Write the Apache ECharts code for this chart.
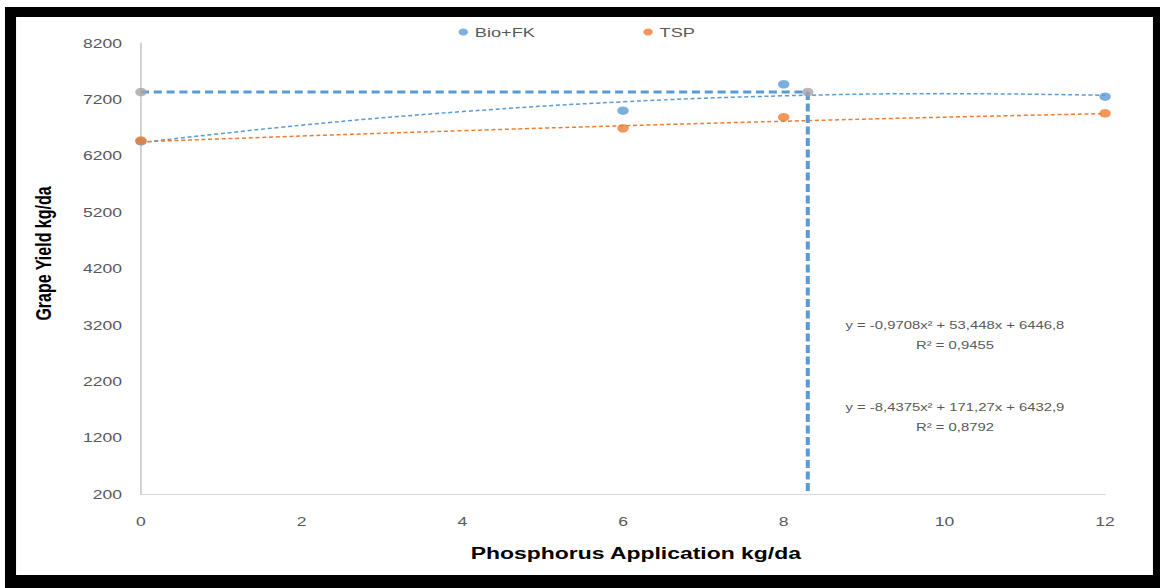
<!DOCTYPE html>
<html>
<head>
<meta charset="utf-8">
<style>
  html, body { margin: 0; padding: 0; background: #ffffff; overflow: hidden; }
  /* the chart is laid out narrow and widened horizontally */
  #chart { width: 860px; height: 588px; transform: scaleX(1.3488); transform-origin: 0 0; }
</style>
<script src="https://cdn.jsdelivr.net/npm/echarts@6/dist/echarts.min.js"></script>
</head>
<body>
<div id="chart"></div>
<script>
// Phosphorus doses (kg/da) and measured grape yield (kg/da)
const doses = [0, 6, 8, 12];
const bioFkYield = [6455, 7000, 7468, 7248];
const tspYield = [6470, 6688, 6883, 6953];

// Polynomial trend lines, sampled along the x axis
const trendX = [0, 2, 4, 6, 8, 10, 12];
const bioFkTrend = [6433, 6742, 6983, 7157, 7263, 7302, 7273];
const tspTrend = [6447, 6550, 6645, 6732, 6812, 6884, 6948];

// Optimum dose / yield guide point
const optDose = 8.3;
const optYield = 7330;

// Axis ranges and tick steps
const xRange = [0, 12, 2];
const yRange = [200, 8200, 1000];

// Regression equations shown beside the curves
const equations = [
  'y = -0,9708x² + 53,448x + 6446,8',
  'R² = 0,9455',
  'y = -8,4375x² + 171,27x + 6432,9',
  'R² = 0,8792'
];

const BLUE = '#5B9BD5';
const ORANGE = '#ED7D31';
const GREY = '#A5A5A5';
const TEXT = '#595959';
const labelFont = '"Liberation Sans", Arial, sans-serif';
const titleFont = '"Liberation Sans", Arial, sans-serif';

const pairs = (xs, ys) => xs.map((x, i) => [x, ys[i]]);

const chart = echarts.init(document.getElementById('chart'), null, { renderer: 'svg' });

const eqX = 708;
const eqMid = [325, 345, 407, 427];

const legendBase = {
  top: 25,
  padding: 0,
  icon: 'circle',
  itemWidth: 7,
  itemHeight: 8,
  textStyle: { color: TEXT, fontSize: 13.5, fontFamily: labelFont }
};

chart.setOption({
  animation: false,
  backgroundColor: '#ffffff',
  grid: { left: 104.5, right: 40.7, top: 43, bottom: 94, containLabel: false },
  legend: [
    Object.assign({ data: ['Bio+FK'], left: 340 }, legendBase),
    Object.assign({ data: ['TSP'], left: 477 }, legendBase)
  ],
  xAxis: {
    type: 'value',
    min: xRange[0], max: xRange[1], interval: xRange[2],
    name: 'Phosphorus Application kg/da',
    nameLocation: 'middle',
    nameGap: 51,
    nameTextStyle: { color: '#000', fontSize: 17, fontWeight: 'bold', fontFamily: titleFont, padding: [0, 0, 0, 19] },
    axisLine: { show: true, lineStyle: { color: '#D9D9D9', width: 1 } },
    axisTick: { show: false },
    splitLine: { show: false },
    axisLabel: { color: TEXT, fontSize: 13, margin: 21, fontFamily: labelFont }
  },
  yAxis: {
    type: 'value',
    min: yRange[0], max: yRange[1], interval: yRange[2],
    name: 'Grape Yield kg/da',
    nameLocation: 'middle',
    nameGap: 64,
    nameRotate: 90,
    nameTextStyle: { color: '#000', fontSize: 16, fontWeight: 'bold', fontFamily: titleFont, padding: [0, 0, 0, 30] },
    axisLine: { show: true, lineStyle: { color: '#BFBFBF', width: 1 } },
    axisTick: { show: false },
    splitLine: { show: false },
    axisLabel: { color: TEXT, fontSize: 13, margin: 14, fontFamily: labelFont, formatter: v => String(v) }
  },
  series: [
    {
      name: 'Bio+FK trend',
      type: 'line',
      data: pairs(trendX, bioFkTrend),
      smooth: 0.4,
      showSymbol: false,
      lineStyle: { color: BLUE, width: 1.5, type: [3, 2] },
      z: 2
    },
    {
      name: 'TSP trend',
      type: 'line',
      data: pairs(trendX, tspTrend),
      smooth: 0.4,
      showSymbol: false,
      lineStyle: { color: ORANGE, width: 1.5, type: [3, 2] },
      z: 2
    },
    {
      name: 'optimum horizontal',
      type: 'line',
      data: [[xRange[0], optYield], [optDose, optYield]],
      showSymbol: false,
      lineStyle: { color: BLUE, width: 3, type: [6, 3.5] },
      z: 3
    },
    {
      name: 'optimum vertical',
      type: 'line',
      data: [[optDose, optYield], [optDose, yRange[0]]],
      showSymbol: false,
      lineStyle: { color: BLUE, width: 3, type: [8, 3.5] },
      z: 3
    },
    {
      name: 'Bio+FK',
      type: 'scatter',
      data: pairs(doses, bioFkYield),
      symbolSize: 8.5,
      itemStyle: { color: BLUE },
      z: 4
    },
    {
      name: 'TSP',
      type: 'scatter',
      data: pairs(doses, tspYield),
      symbolSize: 8.5,
      itemStyle: { color: ORANGE },
      z: 5
    },
    {
      name: 'optimum',
      type: 'scatter',
      data: [[xRange[0], optYield], [optDose, optYield]],
      symbolSize: 8.5,
      itemStyle: { color: GREY },
      z: 6
    }
  ],
  graphic: [
    // black picture frame
    { type: 'rect', shape: { x: 3.7, y: 7, width: 860, height: 10 }, style: { fill: '#000' }, z: 100 },
    { type: 'rect', shape: { x: 3.7, y: 7, width: 8.2, height: 581 }, style: { fill: '#000' }, z: 100 },
    { type: 'rect', shape: { x: 854.8, y: 7, width: 6, height: 581 }, style: { fill: '#000' }, z: 100 },
    { type: 'rect', shape: { x: 3.7, y: 575, width: 860, height: 13 }, style: { fill: '#000' }, z: 100 }
  ].concat(equations.map((t, i) => ({
    type: 'text',
    x: eqX,
    y: eqMid[i],
    style: {
      text: t,
      fill: TEXT,
      fontSize: 11,
      fontFamily: labelFont,
      textAlign: 'center',
      textVerticalAlign: 'middle'
    },
    z: 50
  })))
});
</script>
</body>
</html>
